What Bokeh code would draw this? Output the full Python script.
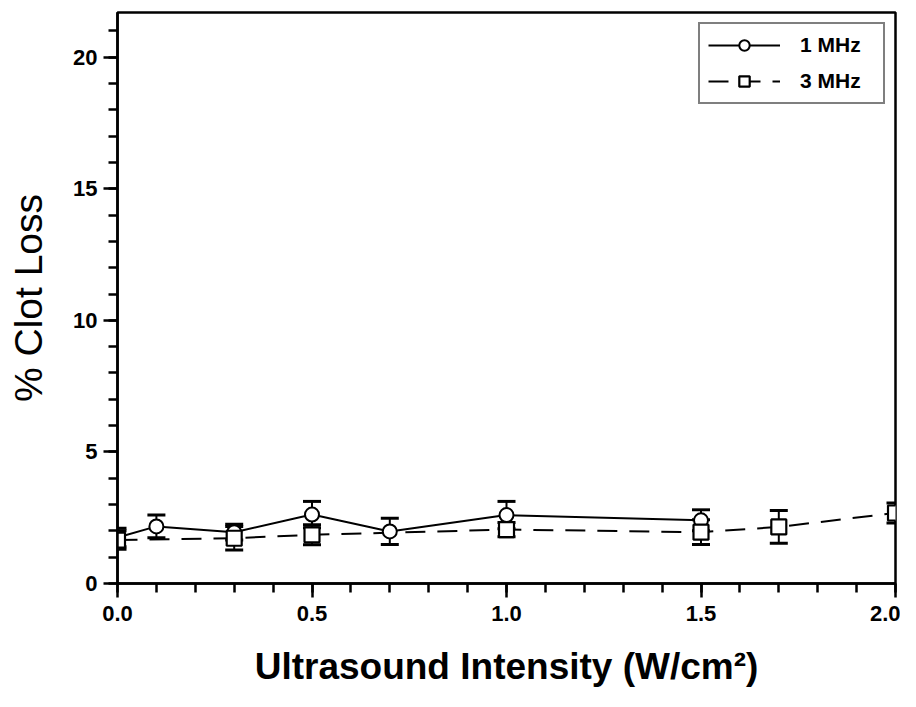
from bokeh.plotting import figure
from bokeh.models import (ColumnDataSource, Whisker, TeeHead, SingleIntervalTicker,
                          NumeralTickFormatter, Legend, LegendItem, Range1d)
from bokeh.embed import file_html
from bokeh.resources import INLINE

# --- data ---
x_1mhz = [0.0, 0.1, 0.3, 0.5, 0.7, 1.0, 1.5]
y_1mhz = [1.75, 2.17, 1.95, 2.62, 1.98, 2.60, 2.40]
e_1mhz = [0.35, 0.43, 0.30, 0.50, 0.50, 0.52, 0.40]

x_3mhz = [0.0, 0.3, 0.5, 1.0, 1.5, 1.7, 2.0]
y_3mhz = [1.65, 1.72, 1.85, 2.05, 1.95, 2.15, 2.68]
e_3mhz = [0.35, 0.45, 0.38, 0.27, 0.47, 0.62, 0.38]

series_labels = ["1 MHz", "3 MHz"]
x_title = "Ultrasound Intensity (W/cm\u00b2)"
y_title = "% Clot Loss"

FONT = "Liberation Sans"

p = figure(width=900, height=691, output_backend="svg", toolbar_location=None,
           x_range=Range1d(0, 2.0), y_range=Range1d(0, 21.7),
           min_border_left=117, min_border_right=5, min_border_top=12,
           min_border_bottom=108)
p.grid.visible = False
p.background_fill_color = "white"
p.border_fill_color = "white"
p.outline_line_color = "black"
p.outline_line_width = 2.5

def src(xs, ys, es):
    return ColumnDataSource(dict(x=xs, y=ys,
                                 upper=[a + b for a, b in zip(ys, es)],
                                 lower=[a - b for a, b in zip(ys, es)]))

s1 = src(x_1mhz, y_1mhz, e_1mhz)
s3 = src(x_3mhz, y_3mhz, e_3mhz)

l1 = p.line("x", "y", source=s1, line_color="black", line_width=2)
l3 = p.line("x", "y", source=s3, line_color="black", line_width=2, line_dash="20 12")

for s in (s1, s3):
    w = Whisker(source=s, base="x", upper="upper", lower="lower",
                line_color="black", line_width=2,
                upper_head=TeeHead(size=18, line_width=3, line_color="black"),
                lower_head=TeeHead(size=18, line_width=3, line_color="black"))
    p.add_layout(w)

m1 = p.scatter("x", "y", source=s1, marker="circle", size=14,
               fill_color="white", line_color="black", line_width=2)
m3 = p.scatter("x", "y", source=s3, marker="square", size=15,
               fill_color="white", line_color="black", line_width=2.2)

legend = Legend(items=[LegendItem(label=series_labels[0], renderers=[l1, m1]),
                       LegendItem(label=series_labels[1], renderers=[l3, m3])],
                location="top_right")
legend.border_line_color = "black"
legend.border_line_width = 2
legend.label_text_font = FONT
legend.label_text_font_style = "bold"
legend.label_text_font_size = "21px"
legend.label_text_color = "black"
legend.glyph_width = 72
legend.glyph_height = 26
legend.label_standoff = 20
legend.padding = 8
legend.spacing = 10
legend.margin = 10
legend.label_width = 75
legend.background_fill_color = "white"
p.add_layout(legend)

# axes
p.xaxis.ticker = SingleIntervalTicker(interval=0.5, num_minor_ticks=5)
p.yaxis.ticker = SingleIntervalTicker(interval=5, num_minor_ticks=5)
p.xaxis.formatter = NumeralTickFormatter(format="0.0")
for ax in (p.xaxis, p.yaxis):
    ax.axis_line_width = 2.5
    ax.axis_line_color = "black"
    ax.major_tick_line_width = 2.5
    ax.minor_tick_line_width = 2.5
    ax.major_tick_line_color = "black"
    ax.minor_tick_line_color = "black"
    ax.major_tick_in = 0
    ax.minor_tick_in = 0
    ax.major_tick_out = 14
    ax.minor_tick_out = 9
    ax.major_label_text_font = FONT
    ax.major_label_text_font_style = "bold"
    ax.major_label_text_font_size = "22px"
    ax.major_label_text_color = "black"
    ax.axis_label_text_color = "black"
    ax.axis_label_text_font = FONT

p.xaxis.major_label_standoff = 8
p.yaxis.major_label_standoff = 6
p.xaxis.axis_label = x_title
p.xaxis.axis_label_text_font_style = "bold"
p.xaxis.axis_label_text_font_size = "37px"
p.xaxis.axis_label_standoff = 22
p.yaxis.axis_label = y_title
p.yaxis.axis_label_text_font_style = "normal"
p.yaxis.axis_label_text_font_size = "39px"
p.yaxis.axis_label_standoff = 20

open("out.html", "w").write(file_html(p, INLINE))
